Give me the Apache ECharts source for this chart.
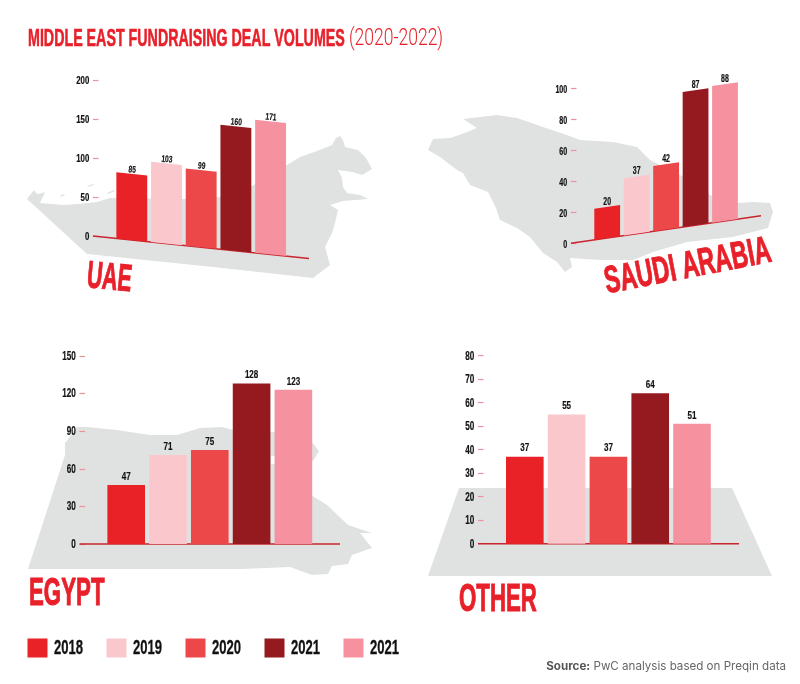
<!DOCTYPE html>
<html>
<head>
<meta charset="utf-8">
<title>Middle East fundraising deal volumes</title>
<script src="https://cdn.jsdelivr.net/npm/echarts@6/dist/echarts.min.js"></script>
<style>
  html, body { margin: 0; padding: 0; background: #fff; }
  #chart { width: 800px; height: 684px; }
</style>
</head>
<body>
<div id="chart"></div>
<script>
// Deal counts per country, one value per legend entry
const yearLabels = ['2018', '2019', '2020', '2021', '2021'];
const uaeValues = [85, 103, 99, 160, 171];
const saudiValues = [20, 37, 42, 87, 88];
const egyptValues = [47, 71, 75, 128, 123];
const otherValues = [37, 55, 37, 64, 51];

// Value-axis ticks per country
const uaeTicks = [0, 50, 100, 150, 200];
const saudiTicks = [0, 20, 40, 60, 80, 100];
const egyptTicks = [0, 30, 60, 90, 120, 150];
const otherTicks = [0, 10, 20, 30, 40, 50, 60, 70, 80];

const barColors = ['#e92227', '#fac8cc', '#ed4849', '#951a1f', '#f6929f'];
const RED = '#e8202a';
const GREY = '#e0e2e1';
const FACE = '"Liberation Sans", Arial, sans-serif';

// Country outlines sitting behind the plots
const uaeShape = [[27,199],[34,190],[36,193],[39,194],[45,192],[40,203],[53,204],[63,205],[78,204],[97,202],[110,198],[183,199],[220,197],[252,186],[287,165],[300,157],[317,151],[332,145],[336,138],[340,136],[343,140],[345,147],[358,150],[366,158],[372,169],[362,175],[352,172],[338,170],[342,178],[343,187],[347,193],[360,195],[368,199],[343,201],[330,205],[338,210],[335,223],[332,233],[325,247],[330,265],[313,278],[213,267],[87,254]];
const uaeIslets = [
  [[60,196],[64,194],[65,195],[61,197]],
  [[87,186],[93,184],[94,185],[88,187]],
  [[107,193],[114,190],[115,191],[108,194]]
];
const saudiShape = [[428,150],[433,139],[450,138],[462,134],[477,128],[463,119],[497,115],[517,118],[543,127],[567,135],[580,140],[613,142],[637,147],[650,160],[680,175],[710,195],[738,203],[753,202],[770,203],[773,212],[768,228],[733,237],[687,242],[653,252],[633,260],[600,260],[570,258],[572,267],[565,272],[557,262],[543,253],[530,237],[517,228],[500,220],[496,208],[488,192],[470,185],[463,173],[457,170],[440,157]];
const egyptShape = [[28,569],[65,455],[65,443],[77,427],[87,427],[117,430],[150,435],[177,435],[200,428],[222,427],[233,430],[270,432],[287,433],[312,442],[319,451],[313,461],[305,456],[271,456],[271,464],[311,464],[311,495],[327,505],[348,525],[372,533],[360,533],[372,548],[352,555],[348,564],[332,566],[328,574],[312,575],[290,567],[242,569]];
const otherShape = [[459,488],[732,488],[772,576],[428,576]];

// One entry per plot: grid rectangle, x extent in bar slots, baseline slope and text sizes
const panels = [
  { values: uaeValues, ticks: uaeTicks, left: 93, top: 80.3, width: 216, height: 155.7,
    xMin: -1.118, xMax: 5.107, slope: 0.104, barRatio: 0.89,
    fontSize: 9.5, labelGap: -1, labelTilt: -0.08, tickSize: 11.5, tickDy: 0.5 },
  { values: saudiValues, ticks: saudiTicks, left: 571, top: 88, width: 190, height: 155.3,
    xMin: -1.229, xMax: 5.222, slope: -0.1456, barRatio: 0.876,
    fontSize: 10, labelGap: -0.3, labelTilt: 0, tickSize: 10.5, tickDy: 2 },
  { values: egyptValues, ticks: egyptTicks, left: 79.5, top: 356, width: 260.5, height: 188,
    xMin: -1.117, xMax: 5.115, slope: 0, barRatio: 0.9,
    fontSize: 11.5, labelGap: 2.5, labelTilt: 0, tickSize: 12, tickDy: 0.5 },
  { values: otherValues, ticks: otherTicks, left: 478, top: 355.7, width: 261, height: 188,
    xMin: -1.12, xMax: 5.124, slope: 0, barRatio: 0.9,
    fontSize: 11.5, labelGap: 2.5, labelTilt: 0, tickSize: 12, tickDy: 0.5 }
];

// Squeezed bold lettering for all the narrow figures
function narrowText(text, size, fill, align, vAlign, weight) {
  return {
    text: text, fill: fill, font: 'bold ' + size + 'px ' + FACE,
    stroke: fill, lineWidth: weight,
    align: align, verticalAlign: vAlign, textAlign: align, textVerticalAlign: vAlign
  };
}

// Bars lean with the baseline: every point is shifted by the slope times its distance from the axis
function makeRenderItem(panel) {
  return function (params, api) {
    const sys = params.coordSys;
    const shift = (px) => panel.slope * (px - sys.x);
    const slot = api.value(0);
    const value = api.value(1);
    const half = api.size([1, 0])[0] * panel.barRatio / 2;
    const cx = api.coord([slot, 0])[0];
    const y0 = api.coord([slot, 0])[1];
    const yv = api.coord([slot, value])[1];
    const xl = cx - half;
    const xr = cx + half;
    const children = [];
    if (params.dataIndex === 0) {
      children.push({
        type: 'line',
        shape: { x1: sys.x, y1: y0, x2: sys.x + sys.width, y2: y0 + shift(sys.x + sys.width) },
        style: { stroke: '#c9252e', lineWidth: 1.5 }
      });
    }
    children.push({
      type: 'polygon',
      shape: { points: [
        [xl, yv + shift(xl)], [xr, yv + shift(xr)],
        [xr, y0 + shift(xr)], [xl, y0 + shift(xl)]
      ] },
      style: { fill: barColors[params.dataIndex] }
    });
    children.push({
      type: 'text',
      x: cx,
      y: yv + shift(cx) - panel.labelGap,
      rotation: panel.labelTilt,
      scaleX: 0.7,
      style: narrowText(String(value), panel.fontSize, '#111', 'center', 'bottom', 0.2)
    });
    return { type: 'group', children: children };
  };
}

// Tick figures follow the value axis scale, right-aligned against the tick marks
function makeTickLabel(panel) {
  return function (params, api) {
    const tick = api.value(1);
    return {
      type: 'text',
      x: params.coordSys.x - 3.7,
      y: api.coord([panel.xMin, tick])[1] + panel.tickDy,
      scaleX: 0.68,
      style: narrowText(String(tick), panel.tickSize, '#111', 'right', 'middle', 0.2)
    };
  };
}

const heading = (text, x, y, size, sx, rotation, weight) => ({
  type: 'text', x: x, y: y, scaleX: sx, rotation: rotation || 0, z: 10,
  style: narrowText(text, size, RED, 'left', 'middle', weight)
});

const shapes = [uaeShape, saudiShape, egyptShape, otherShape].concat(uaeIslets).map((points) => ({
  type: 'polygon', z: -1, silent: true,
  shape: { points: points },
  style: { fill: GREY }
}));

const legendItems = [];
yearLabels.forEach((year, i) => {
  legendItems.push({
    type: 'rect', z: 10,
    shape: { x: 27.5 + i * 79, y: 638.5, width: 20, height: 19 },
    style: { fill: barColors[i] }
  });
  legendItems.push({
    type: 'text', x: 54 + i * 79, y: 648.5, scaleX: 0.67, z: 10,
    style: narrowText(year, 19.5, '#111', 'left', 'middle', 0.3)
  });
});

const chart = echarts.init(document.getElementById('chart'), null, { renderer: 'canvas' });

const barSeries = panels.map((p, i) => ({
  type: 'custom', xAxisIndex: i, yAxisIndex: i, clip: false, silent: true,
  renderItem: makeRenderItem(p),
  encode: { x: 0, y: 1 },
  data: p.values.map((v, slot) => [slot, v])
}));
const tickSeries = panels.map((p, i) => ({
  type: 'custom', xAxisIndex: i, yAxisIndex: i, clip: false, silent: true,
  renderItem: makeTickLabel(p),
  encode: { x: 0, y: 1 },
  data: p.ticks.map((t) => [p.xMin, t])
}));

chart.setOption({
  animation: false,
  backgroundColor: '#fff',
  graphic: { elements: shapes.concat(legendItems, [
    heading('MIDDLE EAST FUNDRAISING DEAL VOLUMES', 28, 39, 24, 0.594, 0, 0.6),
    {
      type: 'text', x: 349, y: 39, scaleX: 0.73, z: 10,
      style: {
        text: '(2020-2022)', fill: RED, font: '300 24px Roboto, sans-serif',
        align: 'left', verticalAlign: 'middle', textAlign: 'left', textVerticalAlign: 'middle'
      }
    },
    heading('UAE', 87, 276.5, 38, 0.56, -0.1, 1),
    heading('SAUDI ARABIA', 605, 283, 38, 0.61, 0.19, 1),
    heading('EGYPT', 29, 595, 38, 0.586, 0, 1),
    heading('OTHER', 459, 600.5, 38, 0.586, 0, 1),
    {
      type: 'text', x: 786, y: 666.5, z: 10,
      style: {
        text: '{b|Source:} PwC analysis based on Preqin data',
        rich: {
          b: { font: 'bold 11.6px Inter, sans-serif', fill: '#555' }
        },
        fill: '#666', font: '11.6px Inter, sans-serif',
        align: 'right', verticalAlign: 'middle', textAlign: 'right', textVerticalAlign: 'middle'
      }
    }
  ]) },
  grid: panels.map((p) => ({ left: p.left, top: p.top, width: p.width, height: p.height })),
  xAxis: panels.map((p, i) => ({
    type: 'value', gridIndex: i, min: p.xMin, max: p.xMax,
    axisLine: { show: false, onZero: false }, axisTick: { show: false },
    axisLabel: { show: false }, splitLine: { show: false }
  })),
  yAxis: panels.map((p, i) => ({
    type: 'value', gridIndex: i, min: 0, max: p.ticks[p.ticks.length - 1], interval: p.ticks[1],
    axisLine: { show: false, onZero: false },
    axisTick: { show: true, inside: true, length: 5.5, lineStyle: { color: '#ec929b', width: 1.2 } },
    axisLabel: { show: false },
    splitLine: { show: false }
  })),
  series: barSeries.concat(tickSeries)
});
</script>
</body>
</html>
